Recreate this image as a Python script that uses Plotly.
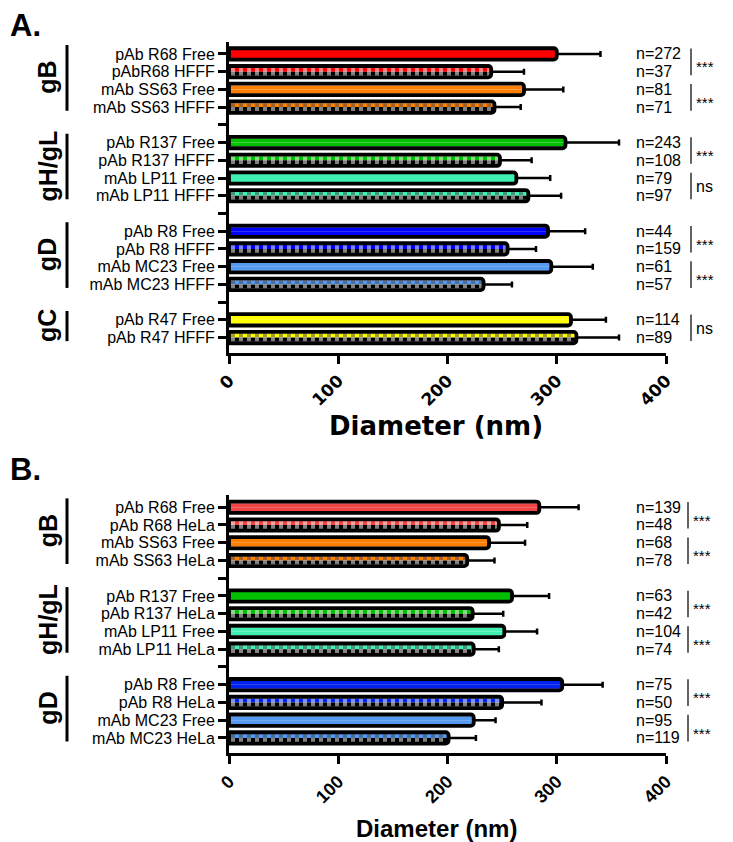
import plotly.graph_objects as go

# ---------------- Data ----------------
# Panel A (HFFF)
a_labels = ["pAb R68 Free", "pAbR68 HFFF", "mAb SS63 Free", "mAb SS63 HFFF", "",
            "pAb R137 Free", "pAb R137 HFFF", "mAb LP11 Free", "mAb LP11 HFFF", "",
            "pAb R8 Free", "pAb R8 HFFF", "mAb MC23 Free", "mAb MC23 HFFF", "",
            "pAb R47 Free", "pAb R47 HFFF"]
a_values = [300, 240, 270, 243, None, 308, 248, 263, 274, None, 292, 255, 295, 233, None, 313, 318]
a_errors = [40, 30, 36, 24, None, 49, 29, 31, 30, None, 34, 26, 38, 26, None, 32, 39]
a_n = ["272", "37", "81", "71", "", "243", "108", "79", "97", "", "44", "159", "61", "57", "", "114", "89"]
a_sig = [("***", 0, 1), ("***", 2, 3), ("***", 5, 6), ("ns", 7, 8), ("***", 10, 11), ("***", 12, 13), ("ns", 15, 16)]
a_groups = [("gB", 0, 3), ("gH/gL", 5, 8), ("gD", 10, 13), ("gC", 15, 16)]

# Panel B (HeLa)
b_labels = ["pAb R68 Free", "pAb R68 HeLa", "mAb SS63 Free", "mAb SS63 HeLa", "",
            "pAb R137 Free", "pAb R137 HeLa", "mAb LP11 Free", "mAb LP11 HeLa", "",
            "pAb R8 Free", "pAb R8 HeLa", "mAb MC23 Free", "mAb MC23 HeLa"]
b_values = [284, 247, 238, 218, None, 259, 223, 252, 224, None, 305, 250, 224, 201]
b_errors = [36, 26, 33, 25, None, 34, 28, 30, 23, None, 37, 36, 20, 25]
b_n = ["139", "48", "68", "78", "", "63", "42", "104", "74", "", "75", "50", "95", "119"]
b_sig = [("***", 0, 1), ("***", 2, 3), ("***", 5, 6), ("***", 7, 8), ("***", 10, 11), ("***", 12, 13)]
b_groups = [("gB", 0, 3), ("gH/gL", 5, 8), ("gD", 10, 13)]

x_ticks = [0, 100, 200, 300, 400]
x_title = "Diameter (nm)"

# ---------------- Styles ----------------
a_colors = ["#ff0000", "#ff0000", "#ff8000", "#ff8000", None,
            "#00c000", "#00c000", "#40f0b0", "#40f0b0", None,
            "#0000ff", "#0000ff", "#5599f0", "#5599f0", None,
            "#ffff00", "#ffff00"]
b_colors = ["#f04545", "#f04545", "#ff8000", "#ff8000", None,
            "#00c000", "#00c000", "#40f0b0", "#40f0b0", None,
            "#0022ee", "#0022ee", "#5599f0", "#5599f0"]

FONT = "Liberation Sans, Arial, sans-serif"
WIDE = "DejaVu Sans, Liberation Sans, sans-serif"
OFF = 8                      # page body margin
W, H = 733 - OFF, 842 - OFF  # figure size so that the page fits the window


def px(x):   # window x pixel -> paper x
    return (x - OFF) / W


def py(y):   # window y pixel -> paper y
    return 1 - (y - OFF) / H


X_DOM = [px(229), px(666)]

fig = go.Figure()


def add_panel(labels, values, errors, colors, ns, sigs, groups, xa, ya, ydom, yrange,
              group_label_x, bracket_x, tickfam, ticksize):
    rows = list(range(len(labels)))
    checked = [("HFFF" in l or "HeLa" in l) for l in labels]
    cols = [c if c else "rgba(0,0,0,0)" for c in colors]
    shapes_pat = ["|" if ck else "" for ck in checked]
    errs = [e if e is not None else 0 for e in errors]

    # upper half of bar interior
    fig.add_trace(go.Bar(
        x=values, y=rows, orientation="h", xaxis=xa, yaxis=ya,
        width=0.225, offset=-0.225,
        marker=dict(color=cols, line=dict(width=0),
                    pattern=dict(shape=shapes_pat, fgcolor="black", fillmode="overlay",
                                 size=8, solidity=0.5)),
        hoverinfo="skip", showlegend=False))
    # lower half of bar interior (inverted checker)
    fig.add_trace(go.Bar(
        x=values, y=rows, orientation="h", xaxis=xa, yaxis=ya,
        width=0.225, offset=0,
        marker=dict(color=["black" if ck else c for ck, c in zip(checked, cols)],
                    line=dict(width=0),
                    pattern=dict(shape=shapes_pat, fgcolor=cols, fillmode="overlay",
                                 size=8, solidity=0.5)),
        hoverinfo="skip", showlegend=False))
    # outline + error bars
    fig.add_trace(go.Bar(
        x=values, y=rows, orientation="h", xaxis=xa, yaxis=ya,
        width=0.64,
        marker=dict(color="rgba(0,0,0,0)", line=dict(color="black", width=3.8),
                    cornerradius=3),
        error_x=dict(type="data", array=errs, arrayminus=[0] * len(errs), symmetric=False,
                     color="black", thickness=2.5, width=3),
        hoverinfo="skip", showlegend=False))

    xk = "xaxis" + xa[1:]
    yk = "yaxis" + ya[1:]
    fig.update_layout(**{
        xk: dict(domain=X_DOM, anchor=ya, range=[0, 400], tickvals=x_ticks,
                 showline=True, linecolor="black", linewidth=3, automargin=False,
                 ticks="outside", ticklen=8, tickwidth=2.5, tickcolor="black",
                 tickangle=-45, showgrid=False, zeroline=False,
                 tickfont=dict(family=tickfam, size=ticksize, color="black", weight="bold")),
        yk: dict(domain=ydom, anchor=xa, range=yrange, tickvals=rows, ticktext=labels,
                 showline=True, linecolor="black", linewidth=3, automargin=False,
                 ticks="outside", ticklen=8, tickwidth=2.5, tickcolor="black",
                 showgrid=False, zeroline=False,
                 tickfont=dict(family=FONT, size=16, color="black")),
    })

    yref = ya
    for r, n in zip(rows, ns):
        if n:
            fig.add_annotation(x=px(634), xref="paper", y=r, yref=yref, text="n=" + n,
                               showarrow=False, xanchor="left", yanchor="middle",
                               font=dict(family=FONT, size=16, color="black"))
    for txt, r0, r1 in sigs:
        fig.add_shape(type="line", xref="paper", yref=yref, x0=px(bracket_x), x1=px(bracket_x),
                      y0=r0 - 0.3, y1=r1 + 0.2, line=dict(color="#222222", width=1.4))
        fig.add_annotation(x=px(bracket_x + 3), xref="paper", y=(r0 + r1) / 2, yref=yref,
                           text=txt, showarrow=False, xanchor="left", yanchor="middle",
                           yshift=-4 if txt == "***" else 0,
                           font=dict(family=FONT, size=15 if txt == "***" else 16, color="black"))
    for g, r0, r1 in groups:
        fig.add_shape(type="line", xref="paper", yref=yref, x0=px(67), x1=px(67),
                      y0=r0 - 0.5, y1=r1 + 0.2, line=dict(color="black", width=3))
        fig.add_annotation(x=px(group_label_x), xref="paper", y=(r0 - 0.5 + r1 + 0.2) / 2, yref=yref,
                           text=g, textangle=-90, showarrow=False, xanchor="center", yanchor="middle",
                           font=dict(family=FONT, size=25, color="black", weight="bold"))


add_panel(a_labels, a_values, a_errors, a_colors, a_n, a_sig, a_groups, "x", "y",
          [py(353), py(41.7)], [16.87, -0.69], 47, 691, WIDE, 17)
add_panel(b_labels, b_values, b_errors, b_colors, b_n, b_sig, b_groups, "x2", "y2",
          [py(753), py(495)], [13.85, -0.69], 48, 688, FONT, 18)

fig.add_annotation(x=px(436), y=py(426), xref="paper", yref="paper", text=x_title,
                   showarrow=False, xanchor="center", yanchor="middle",
                   font=dict(family=WIDE, size=26, color="black", weight="bold"))
fig.add_annotation(x=px(436), y=py(828), xref="paper", yref="paper", text=x_title,
                   showarrow=False, xanchor="center", yanchor="middle",
                   font=dict(family=FONT, size=24, color="black", weight="bold"))
fig.add_annotation(x=px(8), y=py(26), xref="paper", yref="paper", text="A.",
                   showarrow=False, xanchor="left", yanchor="middle",
                   font=dict(family=FONT, size=31, color="black", weight="bold"))
fig.add_annotation(x=px(8), y=py(469), xref="paper", yref="paper", text="B.",
                   showarrow=False, xanchor="left", yanchor="middle",
                   font=dict(family=FONT, size=31, color="black", weight="bold"))

fig.update_layout(width=W, height=H, margin=dict(l=0, r=0, t=0, b=0, autoexpand=False),
                  paper_bgcolor="white", plot_bgcolor="white", barmode="overlay",
                  showlegend=False)

fig.write_html("out.html")
